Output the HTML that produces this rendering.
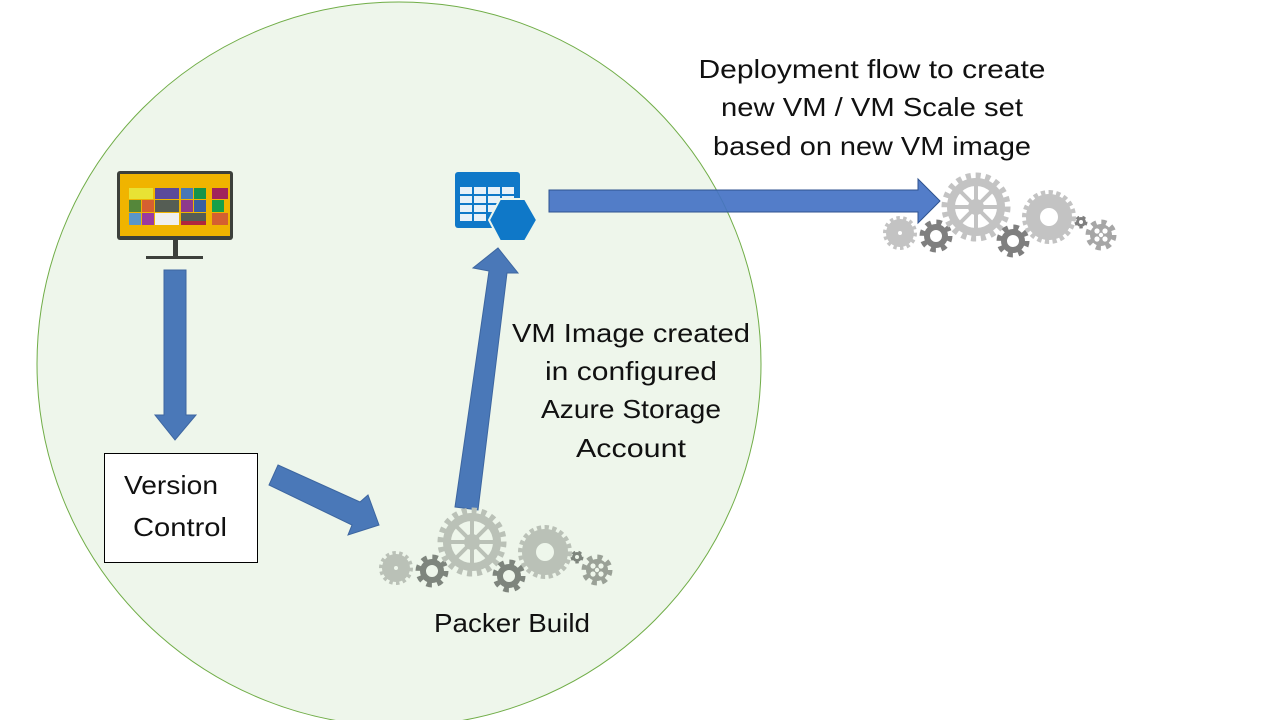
<!DOCTYPE html>
<html><head><meta charset="utf-8"><style>
html,body{margin:0;padding:0;background:#fff;}
svg{display:block;font-family:"Liberation Sans",Arial,sans-serif;}
</style></head><body>
<svg width="1280" height="720" viewBox="0 0 1280 720" xmlns="http://www.w3.org/2000/svg">
<defs>
<symbol id="big" overflow="visible">
 <circle r="31" fill="none" stroke="var(--l)" stroke-width="7" stroke-dasharray="5 4.7"/>
 <circle r="25" fill="none" stroke="var(--l)" stroke-width="8"/>
 <g stroke="var(--l)" stroke-width="4">
  <line x1="0" y1="-22" x2="0" y2="22"/><line x1="-22" y1="0" x2="22" y2="0"/>
  <line x1="-15.5" y1="-15.5" x2="15.5" y2="15.5"/><line x1="15.5" y1="-15.5" x2="-15.5" y2="15.5"/>
 </g>
 <circle r="6" fill="none" stroke="var(--l)" stroke-width="4"/>
</symbol>
<symbol id="med" overflow="visible">
 <circle r="24" fill="none" stroke="var(--l)" stroke-width="6" stroke-dasharray="4.2 3.3"/>
 <circle r="16" fill="none" stroke="var(--l)" stroke-width="14"/>
</symbol>
<symbol id="lsm" overflow="visible">
 <circle r="15" fill="none" stroke="var(--l)" stroke-width="4" stroke-dasharray="3.4 3.3"/>
 <circle r="8" fill="none" stroke="var(--l)" stroke-width="12"/>
</symbol>
<symbol id="dsm" overflow="visible">
 <circle r="13" fill="none" stroke="var(--d)" stroke-width="7" stroke-dasharray="5.1 5.1"/>
 <circle r="9" fill="none" stroke="var(--d)" stroke-width="6"/>
</symbol>
<symbol id="tiny" overflow="visible">
 <circle r="5" fill="none" stroke="var(--d)" stroke-width="3" stroke-dasharray="3.1 3.1"/>
 <circle r="3.5" fill="none" stroke="var(--d)" stroke-width="3"/>
</symbol>
<symbol id="clu" overflow="visible">
 <circle r="13" fill="none" stroke="var(--m)" stroke-width="5" stroke-dasharray="5.1 5.1"/>
 <circle r="11" fill="var(--m)"/>
 <circle cx="-4" cy="-4" r="2.6" fill="var(--bg)"/><circle cx="4" cy="-4" r="2.6" fill="var(--bg)"/>
 <circle cx="-4" cy="4" r="2.6" fill="var(--bg)"/><circle cx="4" cy="4" r="2.6" fill="var(--bg)"/>
 <circle cx="0" cy="0" r="2.2" fill="var(--bg)"/>
</symbol>
<g id="gears">
 <use href="#lsm" x="396" y="568"/>
 <use href="#dsm" x="432" y="571"/>
 <use href="#big" x="472" y="542"/>
 <use href="#dsm" x="509" y="576"/>
 <use href="#med" x="545" y="552"/>
 <use href="#tiny" x="577" y="557"/>
 <use href="#clu" x="597" y="570"/>
</g>
</defs>

<ellipse cx="399" cy="364" rx="362" ry="362" fill="#eef6eb" stroke="#70ad47" stroke-width="1"/>

<rect x="146" y="256" width="57" height="3" fill="#3c403b"/>
<rect x="173" y="238" width="5" height="20" fill="#3c403b"/>
<rect x="117" y="171" width="116" height="69" rx="3" fill="#3c403b"/>
<rect x="120" y="174" width="110" height="62" fill="#f0b400"/>
<g>
<rect x="129" y="188" width="24" height="11" fill="#e8e234"/>
<rect x="155" y="188" width="24" height="11" fill="#5b4a9a"/>
<rect x="181" y="188" width="12" height="11" fill="#4a78b5"/>
<rect x="194" y="188" width="12" height="11" fill="#15944a"/>
<rect x="212" y="188" width="16" height="11" fill="#a0245b"/>
<rect x="129" y="200" width="12" height="12" fill="#55873a"/>
<rect x="142" y="200" width="12" height="12" fill="#d56030"/>
<rect x="155" y="200" width="24" height="12" fill="#555d54"/>
<rect x="181" y="200" width="12" height="12" fill="#8e3a8c"/>
<rect x="194" y="200" width="12" height="12" fill="#3a5fa0"/>
<rect x="212" y="200" width="12" height="12" fill="#17a04a"/>
<rect x="129" y="213" width="12" height="12" fill="#5a96c8"/>
<rect x="142" y="213" width="12" height="12" fill="#9a3aa0"/>
<rect x="155" y="213" width="24" height="12" fill="#f0f0ee"/>
<rect x="181" y="213" width="25" height="12" fill="#555d54"/>
<rect x="181" y="221" width="25" height="4" fill="#b0263e"/>
<rect x="212" y="213" width="16" height="12" fill="#d56030"/>
</g>

<rect x="455" y="172" width="65" height="56" rx="3" fill="#0f78c8"/>
<g fill="#e8f1f8">
<rect x="460" y="187" width="12" height="7"/><rect x="474" y="187" width="12" height="7"/><rect x="488" y="187" width="12" height="7"/><rect x="502" y="187" width="12" height="7"/>
<rect x="460" y="196" width="12" height="7"/><rect x="474" y="196" width="12" height="7"/><rect x="488" y="196" width="12" height="7"/><rect x="502" y="196" width="12" height="7"/>
<rect x="460" y="205" width="12" height="7"/><rect x="474" y="205" width="12" height="7"/><rect x="488" y="205" width="12" height="7"/>
<rect x="460" y="214" width="12" height="7"/><rect x="474" y="214" width="12" height="7"/>
</g>
<polygon points="500,199 525,199 537,220 525,241 500,241 489,220" fill="#0f78c8" stroke="#eef6eb" stroke-width="2"/>

<polygon points="164,270 186,270 186,415 196,415 175,440 155,415 164,415" fill="#4a78b8" stroke="#3d66a0" stroke-width="1"/>
<polygon points="278,465 360,502 368,495 379,525 348,535 352,525 269,485" fill="#4a78b8" stroke="#3d66a0" stroke-width="1"/>
<polygon points="455,507 478,510 507,273 518,273 498,248 473,268 489,271" fill="#4a78b8" stroke="#3d66a0" stroke-width="1"/>
<polygon points="549,190 918,190 918,179 940,201 918,223 918,212 549,212" fill="#4472c4" fill-opacity="0.92" stroke="#2f528f" stroke-width="1"/>

<g style="--l:#bac1b7;--d:#7e857d;--m:#9aa197;--bg:#eef6eb"><use href="#gears"/></g>
<g style="--l:#c3c3c3;--d:#7f7f7f;--m:#a6a6a6;--bg:#ffffff" transform="translate(504,-335)"><use href="#gears"/></g>

<rect x="104.5" y="453.5" width="153" height="109" fill="#fff" stroke="#000" stroke-width="1"/>

<g font-size="26" fill="#111" text-anchor="middle">
<text x="171" y="494" textLength="94" lengthAdjust="spacingAndGlyphs">Version</text>
<text x="180" y="536" textLength="94" lengthAdjust="spacingAndGlyphs">Control</text>
<text x="512" y="632" textLength="156" lengthAdjust="spacingAndGlyphs">Packer Build</text>
<text x="631" y="342" textLength="238" lengthAdjust="spacingAndGlyphs">VM Image created</text>
<text x="631" y="380" textLength="172" lengthAdjust="spacingAndGlyphs">in configured</text>
<text x="631" y="418" textLength="180" lengthAdjust="spacingAndGlyphs">Azure Storage</text>
<text x="631" y="457" textLength="110" lengthAdjust="spacingAndGlyphs">Account</text>
<text x="872" y="78" textLength="347" lengthAdjust="spacingAndGlyphs">Deployment flow to create</text>
<text x="872" y="116" textLength="302" lengthAdjust="spacingAndGlyphs">new VM / VM Scale set</text>
<text x="872" y="155" textLength="318" lengthAdjust="spacingAndGlyphs">based on new VM image</text>
</g>
</svg>
</body></html>
